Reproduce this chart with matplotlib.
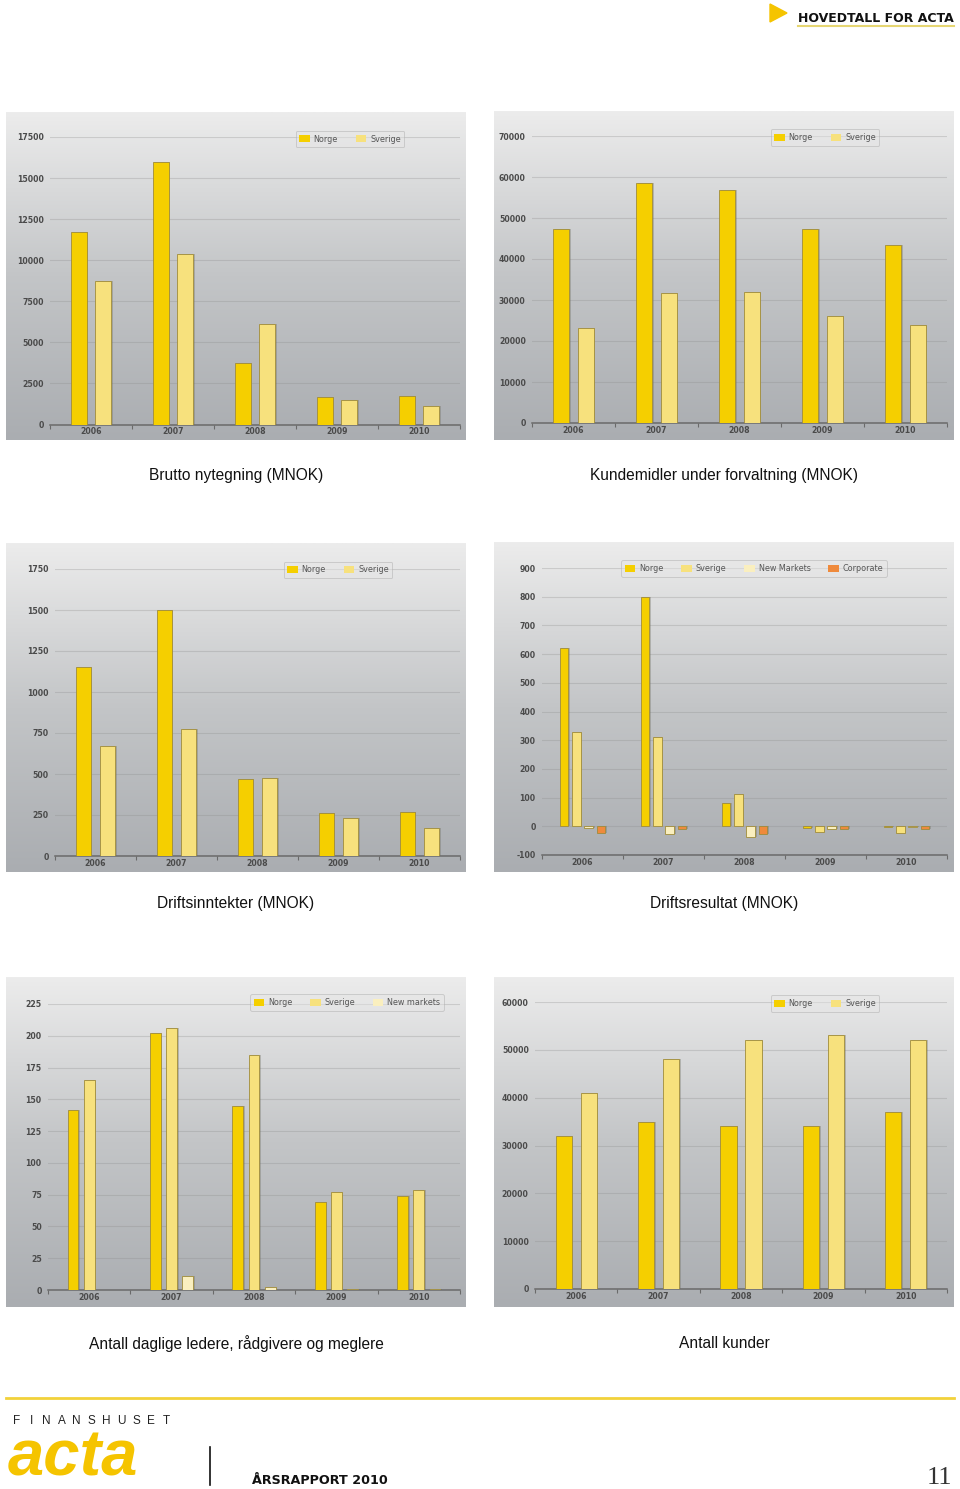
import numpy as np
import matplotlib.pyplot as plt
from matplotlib.patches import Patch, Polygon
from matplotlib.colors import LinearSegmentedColormap
from matplotlib.lines import Line2D

W, H = 960, 1489

years = ['2006', '2007', '2008', '2009', '2010']

# Brutto nytegning (MNOK)
brutto_norge = [11700, 16000, 3760, 1650, 1750]
brutto_sverige = [8750, 10350, 6100, 1500, 1100]
# Kundemidler under forvaltning (MNOK)
kunde_norge = [47300, 58550, 56800, 47300, 43400]
kunde_sverige = [23200, 31600, 31900, 26100, 23800]
# Driftsinntekter (MNOK)
inntekt_norge = [1150, 1500, 470, 265, 270]
inntekt_sverige = [670, 775, 475, 230, 170]
# Driftsresultat (MNOK)
res_norge = [620, 800, 80, -6, -3]
res_sverige = [330, 310, 112, -19, -23]
res_new = [-5, -27, -38, -9, -3]
res_corp = [-22, -10, -28, -10, -8]
# Antall daglige ledere, raadgivere og meglere
ansatte_norge = [142, 202, 145, 69, 74]
ansatte_sverige = [165, 206, 185, 77, 79]
ansatte_new = [0, 11, 2.5, 1, 1]
# Antall kunder
kunder_norge = [32000, 35000, 34000, 34000, 37000]
kunder_sverige = [41000, 48000, 52000, 53000, 52000]

c_norge = '#f5cf00'
c_sverige = '#f7e17d'
c_new = '#faefbf'
c_corp = '#ef8a3c'

fig = plt.figure(figsize=(W / 100, H / 100), dpi=100)
fig.patch.set_facecolor('white')


def fx(x):
    return x / W


def fy(y):
    return 1 - y / H


grad_cmap = LinearSegmentedColormap.from_list('bg', ['#aaadb1', '#c3c5c7', '#ececec'])
grad = np.linspace(0, 1, 256).reshape(-1, 1)[::-1]


def panel(bg, plot, series, names, cols, yticks, width, offsets, leg_c, caption, cap_y):
    bax = fig.add_axes([fx(bg[0]), fy(bg[3]), (bg[2] - bg[0]) / W, (bg[3] - bg[1]) / H])
    bax.imshow(grad, aspect='auto', cmap=grad_cmap, extent=[0, 1, 0, 1], vmin=0, vmax=1)
    bax.axis('off')

    ax = fig.add_axes([fx(plot[0]), fy(plot[3]), (plot[2] - plot[0]) / W, (plot[3] - plot[1]) / H])
    ax.patch.set_alpha(0)
    x = np.arange(len(years))
    unit = (plot[2] - plot[0]) / len(years)
    dx = 1.6 / unit
    for vals, off, c in zip(series, offsets, cols):
        ax.bar(x + off + dx, vals, width, color='#6e6e62', alpha=0.35, lw=0, zorder=2)
        ax.bar(x + off, vals, width, color=c, edgecolor='#a08c3a', lw=0.6, zorder=3)
    ax.set_xlim(-0.5, len(years) - 0.5)
    ax.set_ylim(yticks[0], yticks[-1])
    ax.set_yticks(yticks)
    ax.set_yticklabels([str(v) for v in yticks])
    ax.yaxis.grid(True, color='#8c8c8c', alpha=0.3, lw=0.8)
    ax.set_axisbelow(True)
    ax.tick_params(axis='y', length=0, pad=4.5, labelsize=5.6, labelcolor='#4a4a4a')
    ax.set_xticks(x)
    ax.set_xticklabels(years)
    ax.tick_params(axis='x', length=0, pad=2, labelsize=5.6, labelcolor='#4a4a4a')
    ax.set_xticks(np.arange(-0.5, len(years), 1.0), minor=True)
    ax.tick_params(axis='x', which='minor', length=3, width=0.8, color='#6a6a6a', direction='out')
    for lab in ax.get_xticklabels() + ax.get_yticklabels():
        lab.set_fontweight('bold')
    for s in ['top', 'right', 'left']:
        ax.spines[s].set_visible(False)
    ax.spines['bottom'].set_color('#6a6a6a')
    ax.spines['bottom'].set_linewidth(1.1)

    handles = [Patch(facecolor=c, edgecolor='none') for c in cols]
    leg = ax.legend(handles, names, loc='center', bbox_to_anchor=(fx(leg_c[0]), fy(leg_c[1])),
                    bbox_transform=fig.transFigure, ncol=len(names), fontsize=5.8,
                    frameon=True, fancybox=True, framealpha=0.45, facecolor='#e6e6e6',
                    edgecolor='#a8a8a8', handlelength=1.3, handleheight=0.9,
                    handletextpad=0.5, columnspacing=2.2, borderpad=0.45)
    leg.get_frame().set_linewidth(0.7)
    for t in leg.get_texts():
        t.set_color('#555555')

    cx = (bg[0] + bg[2]) / 2
    fig.text(fx(cx), fy(cap_y), caption, ha='center', va='center', fontsize=11.2,
             family=['Liberation Sans', 'DejaVu Sans'], color='#111111')


panel((6, 112, 466, 440), (50, 137, 460, 424.5), [brutto_norge, brutto_sverige],
      ['Norge', 'Sverige'], [c_norge, c_sverige], list(range(0, 17501, 2500)),
      0.195, [-0.15, 0.15], (350, 139), 'Brutto nytegning (MNOK)', 475)

panel((494, 111, 954, 440), (532, 136, 947, 423), [kunde_norge, kunde_sverige],
      ['Norge', 'Sverige'], [c_norge, c_sverige], list(range(0, 70001, 10000)),
      0.19, [-0.15, 0.15], (825, 137.5), 'Kundemidler under forvaltning (MNOK)', 475)

panel((6, 543, 466, 872), (55, 569, 460, 856), [inntekt_norge, inntekt_sverige],
      ['Norge', 'Sverige'], [c_norge, c_sverige], list(range(0, 1751, 250)),
      0.185, [-0.15, 0.15], (338, 570), 'Driftsinntekter (MNOK)', 904)

panel((494, 542, 954, 872), (542, 568, 947, 855), [res_norge, res_sverige, res_new, res_corp],
      ['Norge', 'Sverige', 'New Markets', 'Corporate'], [c_norge, c_sverige, c_new, c_corp],
      list(range(-100, 901, 100)), 0.11, [-0.228, -0.076, 0.076, 0.228], (754, 568.5),
      'Driftsresultat (MNOK)', 904)

panel((6, 977, 466, 1307), (48, 1004, 460, 1290), [ansatte_norge, ansatte_sverige, ansatte_new],
      ['Norge', 'Sverige', 'New markets'], [c_norge, c_sverige, c_new],
      list(range(0, 226, 25)), 0.13, [-0.197, 0.0, 0.197], (347, 1002.5),
      'Antall daglige ledere, rådgivere og meglere', 1344)

panel((494, 977, 954, 1307), (535, 1002, 947, 1289), [kunder_norge, kunder_sverige],
      ['Norge', 'Sverige'], [c_norge, c_sverige], list(range(0, 60001, 10000)),
      0.195, [-0.152, 0.152], (825, 1003.5), 'Antall kunder', 1344)

renderer = fig.canvas.get_renderer()


def fit(t, target):
    w = t.get_window_extent(renderer).width
    t.set_fontsize(t.get_fontsize() * target / w)


narrow = ['Liberation Sans Narrow', 'DejaVu Sans Condensed', 'DejaVu Sans']

# header
fig.patches.append(Polygon([(fx(770), fy(4)), (fx(770), fy(22)), (fx(787), fy(13))],
                           closed=True, transform=fig.transFigure, color='#f5c400'))
t = fig.text(fx(798), fy(22), 'HOVEDTALL FOR ACTA', ha='left', va='baseline', fontsize=14,
             fontweight='heavy', family=narrow, color='#111111')
fit(t, 156)
fig.lines.append(Line2D([fx(798), fx(954)], [fy(26), fy(26)], transform=fig.transFigure,
                        color='#e6d672', lw=1.5))

# footer
fig.lines.append(Line2D([fx(6), fx(954)], [fy(1398), fy(1398)], transform=fig.transFigure,
                        color='#f2d23a', lw=2))
for i, ch in enumerate('FINANSHUSET'):
    fig.text(fx(17 + i * 14.9), fy(1424), ch, ha='center', va='baseline', fontsize=8.5,
             family=['Liberation Sans', 'DejaVu Sans'], color='#222222')
# logo word: sized so that its box fits between the letters above and the page edge
t = fig.text(fx(8), fy(1488), 'acta', ha='left', va='bottom', fontsize=50,
             fontweight='bold', fontstyle='italic', family=['Liberation Sans', 'DejaVu Sans'],
             color='#f5c400')
h = t.get_window_extent(renderer).height
t.set_fontsize(50 * 60 / h)
fig.lines.append(Line2D([fx(210), fx(210)], [fy(1447), fy(1485)], transform=fig.transFigure,
                        color='#111111', lw=1.2))
t = fig.text(fx(252), fy(1484), 'ÅRSRAPPORT 2010', ha='left', va='baseline', fontsize=14,
             fontweight='heavy', family=narrow, color='#111111')
fit(t, 136)
fig.text(fx(952), fy(1484), '11', ha='right', va='baseline', fontsize=19,
         family=['Liberation Serif', 'DejaVu Serif'], color='#333333')

fig.savefig('out.png', dpi=100)
